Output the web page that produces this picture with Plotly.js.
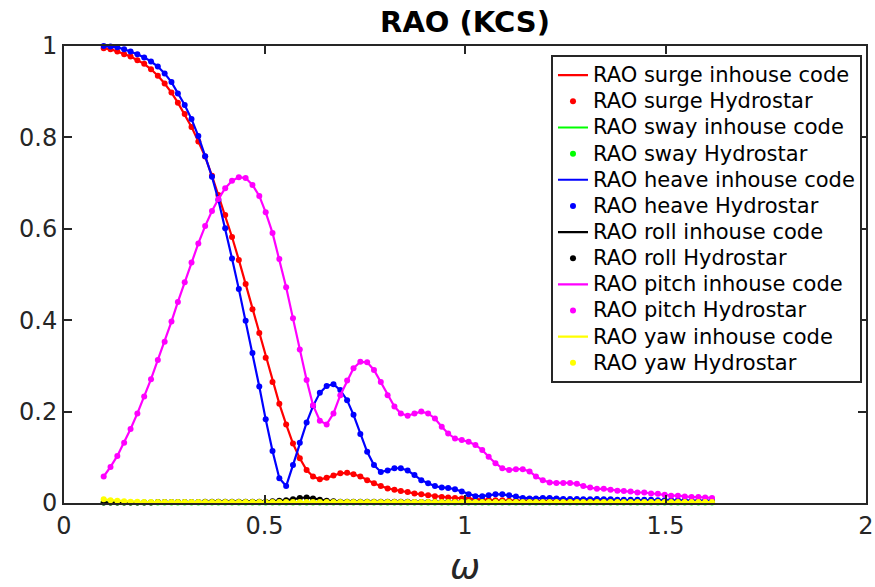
<!DOCTYPE html>
<html>
<head>
<meta charset="utf-8">
<script src="https://cdn.plot.ly/plotly-3.0.1.min.js"></script>
<style>html,body{margin:0;padding:0;background:#fff;}#chart{width:875px;height:587px;}</style>
</head>
<body>
<div id="chart"></div>
<script>
// Frequencies (rad/s)
const omega = [
 0.099,0.116,0.133,0.150,0.166,0.183,0.200,0.217,0.234,0.251,
 0.268,0.284,0.301,0.318,0.335,0.352,0.369,0.385,0.402,0.419,
 0.436,0.453,0.470,0.487,0.503,0.520,0.537,0.554,0.571,0.588,
 0.605,0.621,0.638,0.655,0.672,0.689,0.706,0.722,0.739,0.756,
 0.773,0.790,0.807,0.824,0.840,0.857,0.874,0.891,0.908,0.925,
 0.942,0.958,0.975,0.992,1.009,1.026,1.043,1.059,1.076,1.093,
 1.110,1.127,1.144,1.161,1.177,1.194,1.211,1.228,1.245,1.262,
 1.279,1.295,1.312,1.329,1.346,1.363,1.380,1.396,1.413,1.430,
 1.447,1.464,1.481,1.498,1.514,1.531,1.548,1.565,1.582,1.599,
 1.616];

const surge = [
 0.995,0.993,0.988,0.982,0.977,0.969,0.961,0.949,0.935,0.918,
 0.898,0.876,0.851,0.823,0.791,0.758,0.716,0.674,0.630,0.582,
 0.532,0.479,0.424,0.372,0.318,0.265,0.217,0.172,0.130,0.098,
 0.072,0.058,0.052,0.055,0.060,0.065,0.066,0.063,0.058,0.050,
 0.043,0.037,0.032,0.029,0.026,0.024,0.021,0.019,0.017,0.015,
 0.013,0.012,0.011,0.010,0.009,0.008,0.007,0.007,0.006,0.006,
 0.005,0.005,0.005,0.005,0.004,0.004,0.004,0.004,0.004,0.004,
 0.004,0.004,0.004,0.004,0.003,0.003,0.003,0.003,0.003,0.003,
 0.003,0.003,0.003,0.003,0.003,0.003,0.003,0.003,0.003,0.003,
 0.003];

const sway = [
 0.001,0.001,0.001,0.001,0.001,0.001,0.001,0.001,0.001,0.001,
 0.001,0.001,0.001,0.001,0.001,0.001,0.001,0.001,0.001,0.001,
 0.001,0.001,0.001,0.001,0.001,0.001,0.001,0.001,0.001,0.001,
 0.001,0.001,0.001,0.001,0.001,0.001,0.001,0.001,0.001,0.001,
 0.001,0.001,0.001,0.001,0.001,0.001,0.001,0.001,0.001,0.001,
 0.001,0.001,0.001,0.001,0.001,0.001,0.001,0.001,0.001,0.001,
 0.001,0.001,0.001,0.001,0.001,0.001,0.001,0.001,0.001,0.001,
 0.001,0.001,0.001,0.001,0.001,0.001,0.001,0.001,0.001,0.001,
 0.001,0.001,0.001,0.001,0.001,0.001,0.001,0.001,0.001,0.001,
 0.001];

const heave = [
 1.000,0.999,0.997,0.993,0.988,0.982,0.975,0.966,0.955,0.940,
 0.921,0.896,0.871,0.840,0.803,0.759,0.714,0.663,0.601,0.535,
 0.468,0.399,0.328,0.255,0.183,0.114,0.054,0.037,0.083,0.132,
 0.176,0.212,0.241,0.256,0.260,0.247,0.225,0.193,0.151,0.112,
 0.083,0.068,0.071,0.076,0.076,0.071,0.061,0.050,0.043,0.037,
 0.034,0.033,0.030,0.025,0.019,0.015,0.015,0.017,0.019,0.019,
 0.017,0.014,0.011,0.010,0.010,0.011,0.011,0.010,0.009,0.009,
 0.009,0.008,0.008,0.009,0.008,0.008,0.007,0.007,0.007,0.007,
 0.007,0.007,0.006,0.006,0.006,0.006,0.006,0.005,0.005,0.005,
 0.005];

const roll = [
 0.001,0.001,0.001,0.001,0.001,0.001,0.001,0.001,0.002,0.002,
 0.002,0.002,0.002,0.002,0.002,0.003,0.003,0.003,0.003,0.003,
 0.003,0.003,0.003,0.003,0.003,0.004,0.005,0.006,0.008,0.011,
 0.012,0.010,0.007,0.005,0.004,0.003,0.003,0.003,0.003,0.003,
 0.003,0.003,0.003,0.003,0.003,0.003,0.002,0.002,0.002,0.002,
 0.002,0.002,0.002,0.002,0.002,0.002,0.002,0.002,0.002,0.002,
 0.002,0.002,0.002,0.002,0.002,0.002,0.002,0.002,0.002,0.002,
 0.002,0.002,0.002,0.002,0.002,0.002,0.002,0.002,0.002,0.002,
 0.002,0.002,0.002,0.002,0.002,0.002,0.002,0.002,0.002,0.002,
 0.002];

const pitch = [
 0.058,0.079,0.103,0.132,0.162,0.196,0.233,0.271,0.313,0.353,
 0.397,0.440,0.483,0.526,0.568,0.606,0.639,0.665,0.689,0.705,
 0.713,0.711,0.696,0.672,0.636,0.591,0.534,0.472,0.404,0.336,
 0.269,0.214,0.180,0.172,0.196,0.236,0.268,0.295,0.309,0.308,
 0.291,0.265,0.236,0.211,0.196,0.191,0.196,0.200,0.196,0.185,
 0.167,0.152,0.141,0.138,0.134,0.127,0.116,0.101,0.087,0.076,
 0.072,0.074,0.074,0.069,0.058,0.050,0.045,0.044,0.044,0.044,
 0.042,0.037,0.034,0.031,0.031,0.029,0.027,0.026,0.025,0.023,
 0.023,0.021,0.020,0.018,0.016,0.016,0.014,0.013,0.013,0.012,
 0.011];

const yaw = [
 0.008,0.006,0.005,0.004,0.003,0.003,0.002,0.002,0.002,0.002,
 0.002,0.002,0.002,0.002,0.002,0.002,0.002,0.002,0.002,0.002,
 0.002,0.002,0.002,0.002,0.002,0.002,0.002,0.002,0.002,0.002,
 0.002,0.002,0.002,0.002,0.002,0.002,0.002,0.002,0.002,0.002,
 0.002,0.002,0.002,0.002,0.002,0.002,0.002,0.002,0.002,0.002,
 0.002,0.002,0.002,0.002,0.002,0.002,0.002,0.002,0.002,0.002,
 0.002,0.002,0.002,0.002,0.002,0.002,0.002,0.002,0.002,0.002,
 0.002,0.002,0.002,0.002,0.002,0.002,0.002,0.002,0.002,0.002,
 0.002,0.002,0.002,0.002,0.002,0.002,0.002,0.002,0.002,0.002,
 0.002];

const dofNames = ['surge','sway','heave','roll','pitch','yaw'];
const dofValues = [surge, sway, heave, roll, pitch, yaw];
const dofColors = ['#ff0000','#00ff00','#0000ff','#000000','#ff00ff','#ffff00'];

function legendLabel(s) { return '<span style="font-size:21px">' + s + '</span>'; }

const traces = [];
dofNames.forEach((name, i) => {
  traces.push({
    x: omega, y: dofValues[i], type: 'scatter', mode: 'lines',
    name: legendLabel('RAO ' + name + ' inhouse code'),
    line: {color: dofColors[i], width: 2.2},
    cliponaxis: false
  });
  traces.push({
    x: omega, y: dofValues[i], type: 'scatter', mode: 'markers',
    name: legendLabel('RAO ' + name + ' Hydrostar'),
    marker: {color: dofColors[i], size: 6},
    cliponaxis: false
  });
});

const axisCommon = {
  showgrid: false, zeroline: false,
  showline: true, linecolor: '#262626', linewidth: 2, mirror: 'ticks',
  ticks: 'inside', ticklen: 8, tickwidth: 2, tickcolor: '#262626',
  tickfont: {family: 'DejaVu Sans', size: 24, color: '#262626'}
};

const layout = {
  width: 875, height: 587,
  paper_bgcolor: '#ffffff', plot_bgcolor: '#ffffff',
  margin: {l: 64, r: 9, t: 46, b: 84},
  title: {
    text: '<b>RAO (KCS)</b>',
    font: {family: 'DejaVu Sans', size: 29, color: '#000000'},
    x: 0.5315, xref: 'container', xanchor: 'center',
    y: 1 - 22/587, yref: 'container', yanchor: 'middle'
  },
  xaxis: Object.assign({}, axisCommon, {
    range: [0, 2], tickvals: [0, 0.5, 1, 1.5, 2], ticktext: ['0','0.5','1','1.5','2'],
    title: {text: '<i>ω</i>', font: {family: 'DejaVu Sans', size: 36, color: '#262626'}, standoff: 18}
  }),
  yaxis: Object.assign({}, axisCommon, {
    range: [0, 1], tickvals: [0, 0.2, 0.4, 0.6, 0.8, 1], ticktext: ['0','0.2','0.4','0.6','0.8','1']
  }),
  showlegend: true,
  legend: {
    x: 0.995, xanchor: 'right', y: 0.98, yanchor: 'top',
    bgcolor: '#ffffff', bordercolor: '#262626', borderwidth: 2,
    font: {family: 'DejaVu Sans', size: 17.8, color: '#000000'}
  }
};

Plotly.newPlot('chart', traces, layout, {displayModeBar: false, responsive: false});
</script>
</body>
</html>
